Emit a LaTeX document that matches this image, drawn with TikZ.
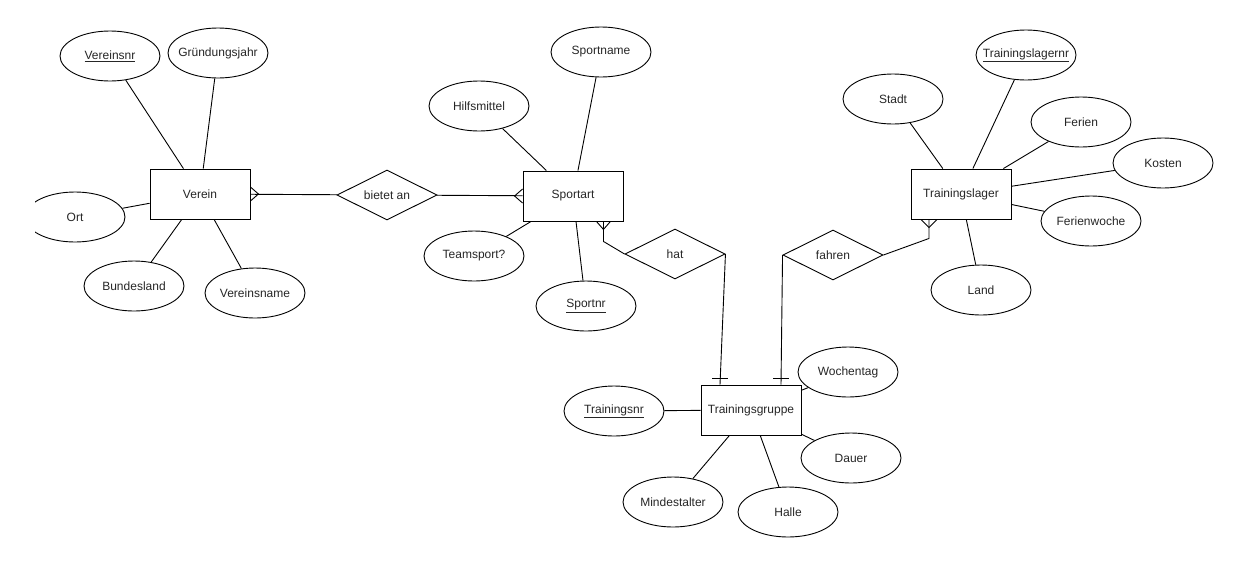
\documentclass[tikz,border=0pt]{standalone}
\usepackage{fontspec}
\setmainfont{Liberation Sans}
\usetikzlibrary{shapes.geometric}
\begin{document}
\begin{tikzpicture}[x=1pt,y=-1pt,line width=0.9pt,
  every node/.style={font=\fontsize{12}{14}\selectfont,text=black!85},
  attr/.style={draw,ellipse,minimum width=100,minimum height=50,inner xsep=-12pt,inner ysep=0pt},
  entity/.style={draw,rectangle,minimum width=100,minimum height=50,inner sep=0pt},
  relation/.style={draw,diamond,aspect=2,minimum width=100,minimum height=50,inner sep=0pt}]
\useasboundingbox (0,0) rectangle (1239,563);
% Verein
\node[entity] (verein) at (200,194) {Verein};
\node[attr] (vereinsnr) at (110,56) {\underline{Vereinsnr}};
\node[attr] (gruendung) at (218,53) {Gründungsjahr};
\begin{scope}
\clip (35,0) rectangle (1239,563);
\node[attr] (ort) at (75,217) {Ort};
\end{scope}
\node[attr] (bundesland) at (134,286) {Bundesland};
\node[attr] (vereinsname) at (255,293) {Vereinsname};
\foreach \a in {vereinsnr,gruendung,ort,bundesland,vereinsname}
  \draw (\a) -- (verein);
% Sportart
\node[relation] (bietet) at (387,195) {bietet an};
\node[entity] (sportart) at (573,196) {Sportart};
\node[attr] (sportname) at (601,52) {Sportname};
\node[attr] (hilfsmittel) at (479,106) {Hilfsmittel};
\node[attr] (teamsport) at (474,256) {Teamsport?};
\node[attr] (sportnr) at (586,306) {\underline{Sportnr}};
\foreach \a in {sportname,hilfsmittel,teamsport,sportnr}
  \draw (\a) -- (sportart);
\draw (verein) -- (bietet);
\draw (bietet) -- (sportart);
% crow's feet (many)
\draw ([yshift=7pt]verein.east) -- ++(8,7) -- ([yshift=-7pt]verein.east);
\draw ([yshift=7pt]sportart.west) -- ++(-8,7) -- ([yshift=-7pt]sportart.west);
% Trainingsgruppe
\node[relation] (hat) at (675,254) {hat};
\node[relation] (fahren) at (833,255) {fahren};
\node[entity] (gruppe) at (751,410) {Trainingsgruppe};
\node[attr] (trainingsnr) at (614,411) {\underline{Trainingsnr}};
\node[attr] (wochentag) at (848,372) {Wochentag};
\node[attr] (dauer) at (851,458) {Dauer};
\node[attr] (mindestalter) at (673,502) {Mindestalter};
\node[attr] (halle) at (788,512) {Halle};
\foreach \a in {trainingsnr,wochentag,dauer,mindestalter,halle}
  \draw (\a) -- (gruppe);
\draw ([xshift=-20pt]sportart.south east) -- ++(0,20) -- (hat.west);
\draw ([xshift=-27pt]sportart.south east) -- ++(7,8) -- ([xshift=-13pt]sportart.south east);
\draw (hat.east) -- ([xshift=-31pt]gruppe.north);
\draw (fahren.west) -- ([xshift=30pt]gruppe.north);
% bars (one)
\draw ([xshift=-39pt,yshift=6pt]gruppe.north) -- ++(16,0);
\draw ([xshift=22pt,yshift=6pt]gruppe.north) -- ++(16,0);
% Trainingslager
\node[entity] (lager) at (961,194) {Trainingslager};
\node[attr] (lagernr) at (1026,55) {\underline{Trainingslagernr}};
\node[attr] (stadt) at (893,99) {Stadt};
\node[attr] (ferien) at (1081,122) {Ferien};
\node[attr] (kosten) at (1163,163) {Kosten};
\node[attr] (ferienwoche) at (1091,221) {Ferienwoche};
\node[attr] (land) at (981,290) {Land};
\foreach \a in {lagernr,stadt,ferien,kosten,ferienwoche,land}
  \draw (\a) -- (lager);
\draw (fahren.east) -- ([xshift=-32pt,yshift=-19pt]lager.south) -- ([xshift=-32pt]lager.south);
\draw ([xshift=-40pt]lager.south) -- ++(8,8) -- ([xshift=-24pt]lager.south);
\end{tikzpicture}
\end{document}
